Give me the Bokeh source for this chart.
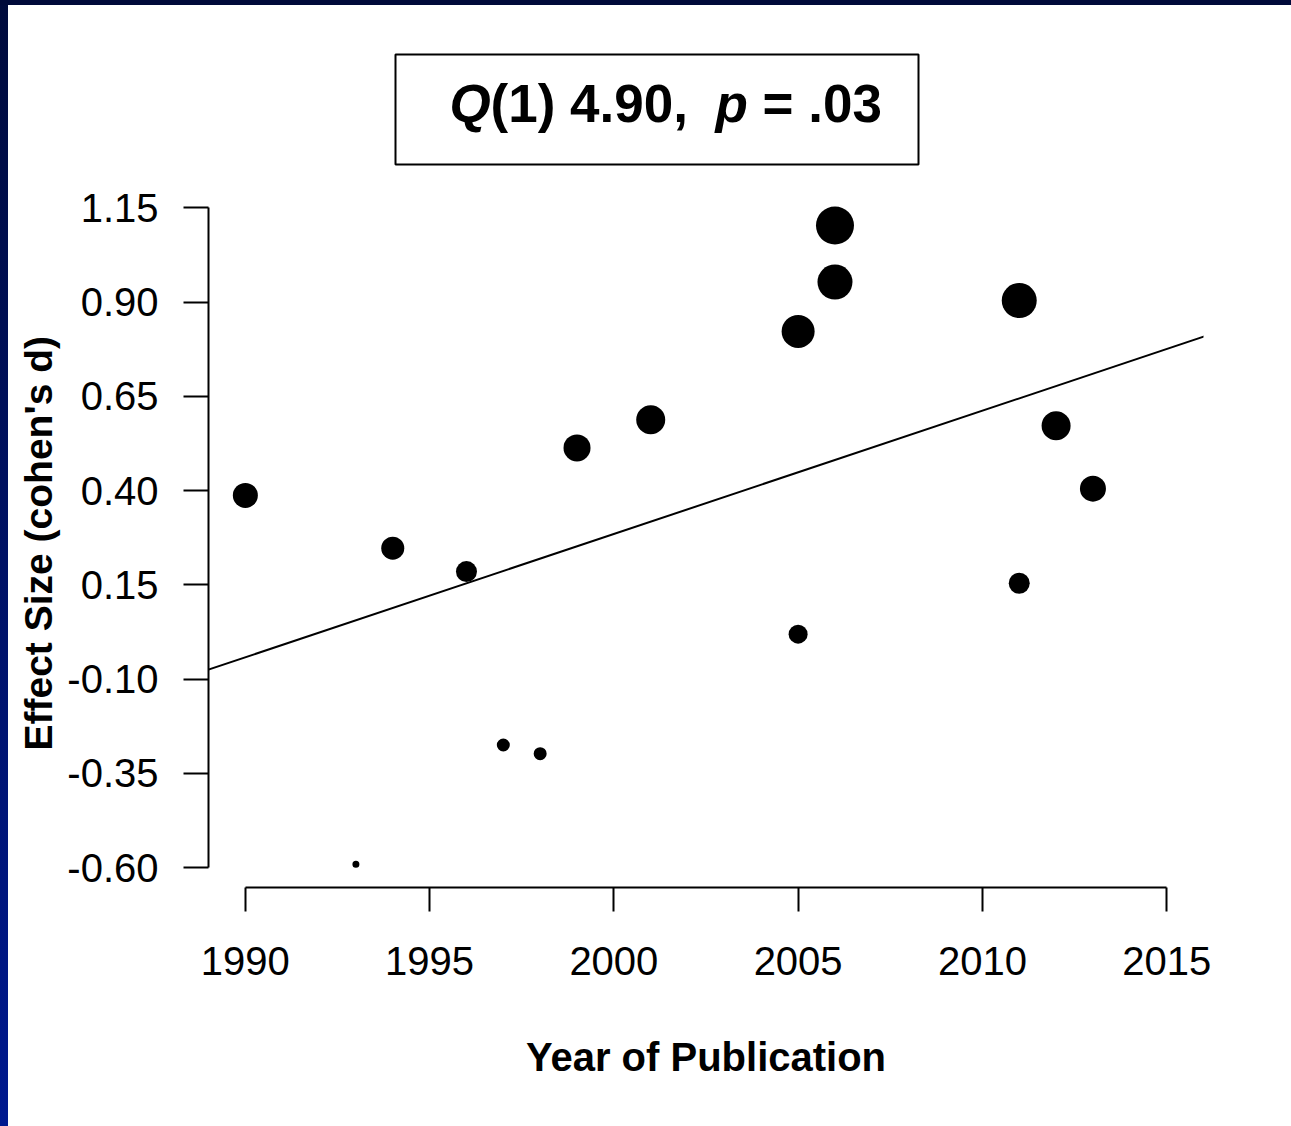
import numpy as np
from bokeh.plotting import figure
from bokeh.models import FixedTicker, Slope, Range1d, GlobalInlineStyleSheet, Title
from bokeh.core.properties import value
from bokeh.embed import file_html
from bokeh.resources import INLINE

# ---------------- data ----------------
year = [1990, 1993, 1994, 1996, 1997, 1998, 1999, 2001,
        2005, 2005, 2006, 2006, 2011, 2011, 2012, 2013]
effect_size = [0.387, -0.591, 0.247, 0.185, -0.275, -0.298, 0.513, 0.588,
               0.822, 0.019, 1.103, 0.953, 0.904, 0.154, 0.572, 0.405]
study_weight = [25, 7, 23, 21, 13, 13, 27, 29,
                33, 19, 38, 35, 35, 21, 29, 26]   # marker diameter (px)

reg_slope = 0.0327        # meta-regression slope per year
reg_x0 = 1989
reg_y0 = -0.075           # fitted value at reg_x0

x_ticks = [1990, 1995, 2000, 2005, 2010, 2015]
x_tick_labels = ["1990", "1995", "2000", "2005", "2010", "2015"]
y_ticks = [-0.60, -0.35, -0.10, 0.15, 0.40, 0.65, 0.90, 1.15]
y_tick_labels = ["-0.60", "-0.35", "-0.10", "0.15", "0.40", "0.65", "0.90", "1.15"]

title_parts = ["Q", "(1) 4.90,", "p", "= .03"]
title_italic = [True, False, True, False]

x_title = "Year of Publication"
y_title = "Effect Size (cohen's d)"

# ---------------- layout ----------------
OFFX, OFFY = 8, 5          # page padding (left strip / top strip)
W, H = 1280, 1118
FL, FR, FT, FB = 200, 1195, 13, 882      # frame edges in figure px
x_lo, x_hi = 1989.0, 2016.0
y_lo, y_hi = -0.653, 1.652

def px_x(page_x):
    return x_lo + (page_x - OFFX - FL) / (FR - FL) * (x_hi - x_lo)

def px_y(page_y):
    return y_hi - (page_y - OFFY - FT) / (FB - FT) * (y_hi - y_lo)

FONT = "Liberation Sans"

p = figure(width=W, height=H, output_backend="svg", toolbar_location=None,
           x_range=Range1d(x_lo, x_hi), y_range=Range1d(y_lo, y_hi),
           min_border_left=FL, min_border_right=W - FR,
           min_border_top=FT, min_border_bottom=H - FB)
p.outline_line_color = None
p.xgrid.visible = False
p.ygrid.visible = False
p.background_fill_color = "white"
p.border_fill_color = "white"

p.stylesheets = [GlobalInlineStyleSheet(css="""
html { min-height: 100%; background-color: #ffffff;
  background-image: linear-gradient(#000a3a, #000a3a), linear-gradient(to bottom, #000b3c, #00198f);
  background-size: 100% 5px, 8px 100%; background-repeat: no-repeat; }
body { margin: 0 !important; padding: 5px 0 0 8px !important; background: transparent; }
""")]

# axes
for ax, ticks, labels in ((p.xaxis, x_ticks, x_tick_labels), (p.yaxis, y_ticks, y_tick_labels)):
    ax.ticker = FixedTicker(ticks=ticks)
    ax.major_label_overrides = {t: l for t, l in zip(ticks, labels)}
    ax.minor_tick_line_color = None
    ax.major_tick_in = 0
    ax.axis_line_width = 2
    ax.major_tick_line_width = 2
    ax.axis_line_color = "black"
    ax.major_tick_line_color = "black"
    ax.major_label_text_font = FONT
    ax.major_label_text_font_size = "40px"
    ax.major_label_text_color = "black"

p.xaxis.bounds = (x_ticks[0], x_ticks[-1])
p.yaxis.bounds = (y_ticks[0], y_ticks[-1])
p.xaxis.major_tick_out = 24
p.yaxis.major_tick_out = 25
p.xaxis.major_label_standoff = 35
p.yaxis.major_label_standoff = 25
p.xaxis.axis_label = x_title
p.xaxis.axis_label_standoff = 57
p.xaxis.axis_label_text_font = FONT
p.xaxis.axis_label_text_font_size = "40px"
p.xaxis.axis_label_text_font_style = "bold"
p.xaxis.axis_label_text_color = "black"

# y-axis title, placed along the tick span like the original
p.add_layout(Title(text=y_title, align="left", offset=137, standoff=10,
                   text_font=FONT, text_font_size="39px", text_font_style="bold",
                   text_color="black"), "left")

# regression line
p.add_layout(Slope(gradient=reg_slope, y_intercept=reg_y0 - reg_slope * reg_x0,
                   line_color="black", line_width=2))

# studies
p.scatter(year, effect_size, size=study_weight, marker="circle",
          fill_color="black", line_color="black", line_width=0)

# title box
p.quad(left=[px_x(395)], right=[px_x(918)], top=[px_y(54)], bottom=[px_y(164)],
       fill_color=None, line_color="black", line_width=2)
title_x_page = [449, 490, 715, 762]
base_y = px_y(103)
for txt, it, xp in zip(title_parts, title_italic, title_x_page):
    p.text(x=[px_x(xp)], y=[base_y], text=[txt],
           text_font=value(FONT), text_font_size="53px",
           text_font_style="bold italic" if it else "bold",
           text_color="black", text_align="left", text_baseline="alphabetic")

open("out.html", "w").write(file_html(p, INLINE))
